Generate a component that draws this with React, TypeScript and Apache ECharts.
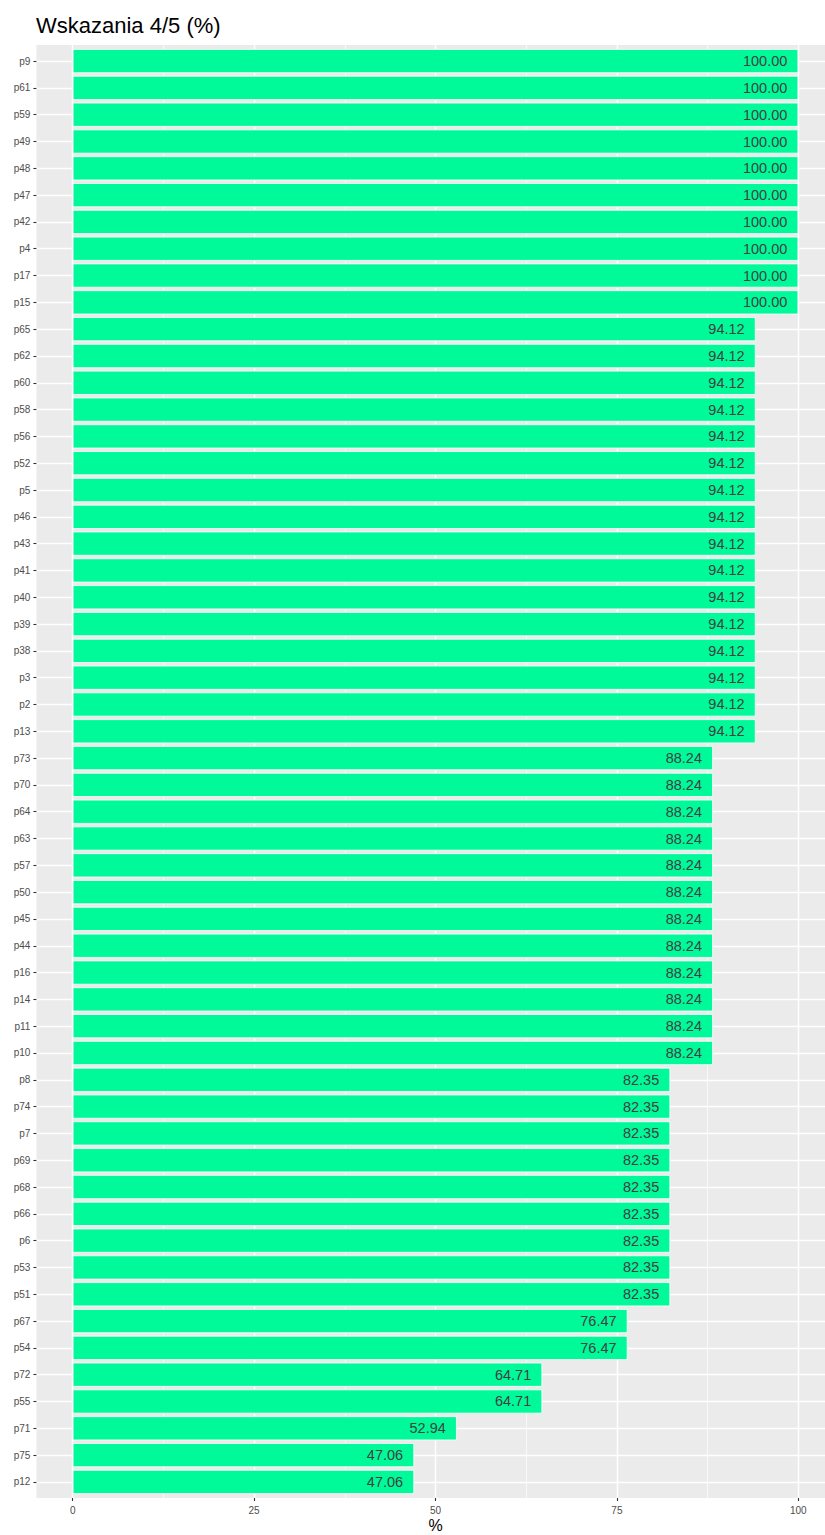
import React, { useEffect, useRef } from "react";
import * as echarts from "echarts";

const categories = [
  "p9", "p61", "p59", "p49", "p48", "p47", "p42", "p4", "p17", "p15",
  "p65", "p62", "p60", "p58", "p56", "p52", "p5", "p46", "p43", "p41", "p40", "p39", "p38", "p3", "p2", "p13",
  "p73", "p70", "p64", "p63", "p57", "p50", "p45", "p44", "p16", "p14", "p11", "p10",
  "p8", "p74", "p7", "p69", "p68", "p66", "p6", "p53", "p51",
  "p67", "p54",
  "p72", "p55",
  "p71",
  "p75", "p12",
];

const values = [
  100, 100, 100, 100, 100, 100, 100, 100, 100, 100,
  94.12, 94.12, 94.12, 94.12, 94.12, 94.12, 94.12, 94.12, 94.12, 94.12, 94.12, 94.12, 94.12, 94.12, 94.12, 94.12,
  88.24, 88.24, 88.24, 88.24, 88.24, 88.24, 88.24, 88.24, 88.24, 88.24, 88.24, 88.24,
  82.35, 82.35, 82.35, 82.35, 82.35, 82.35, 82.35, 82.35, 82.35,
  76.47, 76.47,
  64.71, 64.71,
  52.94,
  47.06, 47.06,
];

const majorTicks = [0, 25, 50, 75, 100];
const minorTicks = [12.5, 37.5, 62.5, 87.5];
const xLabels = ["0", "25", "50", "75", "100"];

const FONT = "'Liberation Sans', Arial, Helvetica, sans-serif";

export default function App() {
  const ref = useRef<HTMLDivElement>(null);

  useEffect(() => {
    if (!ref.current) return;
    const chart = echarts.init(ref.current, undefined, { renderer: "svg" });

    const PANEL_LEFT = 36.4;
    const PANEL_TOP = 45;
    const PANEL_H = 1453;
    const PANEL_W = 798.2;
    const n = categories.length;
    const band = PANEL_H / (n - 1 + 1.2);
    const firstCenter = PANEL_TOP + 0.6 * band;

    const option: any = {
      animation: false,
      textStyle: { fontFamily: FONT },
      title: {
        text: "Wskazania 4/5 (%)",
        left: 36,
        top: 14,
        padding: 0,
        textStyle: { fontSize: 22, fontWeight: "normal", color: "#000", fontFamily: FONT },
      },
      grid: [
        {
          left: PANEL_LEFT, top: PANEL_TOP, width: PANEL_W, height: PANEL_H,
          show: true, backgroundColor: "#EBEBEB", borderWidth: 0,
          containLabel: false, outerBoundsMode: "none",
        },
        {
          left: PANEL_LEFT, top: firstCenter - band / 2, width: PANEL_W, height: band * n,
          containLabel: false, outerBoundsMode: "none",
        },
        {
          left: PANEL_LEFT, top: firstCenter, width: PANEL_W, height: band * (n - 1),
          containLabel: false, outerBoundsMode: "none",
        },
      ],
      xAxis: [
        {
          gridIndex: 0, type: "value", min: -5, max: 105, position: "bottom",
          axisLine: { show: false, onZero: false },
          axisTick: { show: true, customValues: majorTicks, length: 3, lineStyle: { color: "#333", width: 1.1 } },
          axisLabel: {
            customValues: majorTicks, color: "#4D4D4D", fontSize: 10, margin: 7,
            formatter: (v: number) => xLabels[majorTicks.indexOf(v)] ?? String(v),
          },
          splitLine: { show: true, lineStyle: { color: "#FFFFFF", width: 1.4 } },
          name: "%", nameLocation: "middle", nameGap: 19, nameMoveOverlap: false,
          nameTextStyle: { fontSize: 16, lineHeight: 16, color: "#000", fontFamily: FONT },
        },
        {
          gridIndex: 0, type: "value", min: -5, max: 105, position: "top",
          axisLine: { show: false, onZero: false },
          axisTick: { show: false, customValues: minorTicks },
          axisLabel: { show: false, customValues: minorTicks },
          splitLine: { show: true, lineStyle: { color: "#FFFFFF", width: 0.7 } },
        },
        { gridIndex: 1, type: "value", min: -5, max: 105, show: false, axisLine: { onZero: false } },
        { gridIndex: 2, type: "value", min: -5, max: 105, show: false, axisLine: { onZero: false } },
      ],
      yAxis: [
        { gridIndex: 0, type: "value", min: 0, max: 1, show: false, axisLine: { onZero: false } },
        { gridIndex: 1, type: "category", data: categories, inverse: true, show: false, axisLine: { onZero: false } },
        {
          gridIndex: 2, type: "category", data: categories, inverse: true, boundaryGap: false,
          position: "left",
          axisLine: { show: false, onZero: false },
          axisTick: { show: true, length: 3, interval: 0, lineStyle: { color: "#333", width: 1.1 } },
          axisLabel: { interval: 0, fontSize: 10, color: "#4D4D4D", margin: 6 },
          splitLine: { show: true, interval: 0, lineStyle: { color: "#FFFFFF", width: 1.4 } },
        },
      ],
      series: [
        {
          type: "bar",
          xAxisIndex: 2,
          yAxisIndex: 1,
          data: values,
          barWidth: "90%",
          itemStyle: { color: "#00FA9A", borderColor: "#FFFFFF", borderWidth: 0.8 },
          label: {
            show: true,
            position: "insideRight",
            distance: 11,
            fontSize: 14.5,
            color: "#404040",
            fontFamily: FONT,
            formatter: (p: any) => Number(p.value).toFixed(2),
          },
        },
      ],
    };

    chart.setOption(option);
    return () => chart.dispose();
  }, []);

  return (
    <div style={{ position: "absolute", left: 0, top: 0, width: 825, height: 1535, overflow: "hidden", background: "#fff" }}>
      <div ref={ref} style={{ width: 850, height: 1535 }} />
    </div>
  );
}
